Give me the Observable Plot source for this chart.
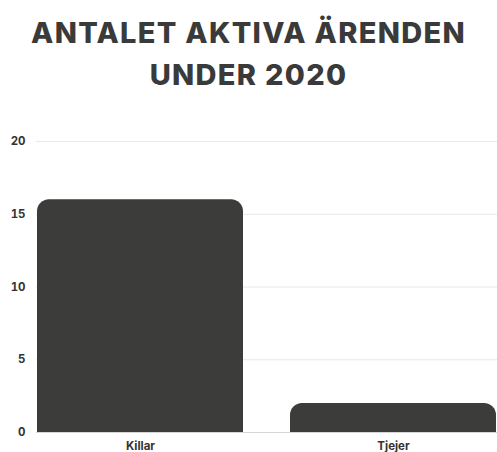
<!DOCTYPE html>
<html>
<head>
<meta charset="utf-8">
<script src="https://cdn.jsdelivr.net/npm/d3@7"></script>
<script src="https://cdn.jsdelivr.net/npm/@observablehq/plot@0.6"></script>
<style>
  html, body { margin: 0; padding: 0; background: #fff; }
  body { width: 497px; height: 452px; overflow: hidden; font-family: Inter, "Noto Sans", sans-serif; }
  #title { padding-top: 12px; height: 92px; text-align: center; font-family: Inter, sans-serif; font-weight: 800; font-size: 29px; line-height: 42px; color: #3a3a3a; letter-spacing: 1.3px; }
  #chart { margin-top: 16px; }
</style>
</head>
<body>
<div id="title">ANTALET AKTIVA ÄRENDEN<br>UNDER 2020</div>
<div id="chart"></div>
<script>
const categories = ["Killar", "Tjejer"];
const values = [16, 2];
const yTicks = [0, 5, 10, 15, 20];

const data = categories.map((c, i) => ({category: c, value: values[i]}));
const barColor = "#3c3c3b";

const chart = Plot.plot({
  width: 497,
  height: 336,
  marginTop: 21,
  marginBottom: 24,
  marginLeft: 36,
  marginRight: 0,
  style: {fontFamily: "Inter, sans-serif", fontSize: "11.5px", fontWeight: 700, color: "#333", overflow: "visible"},
  x: {domain: categories, paddingInner: 0.185, paddingOuter: 0, label: null, tickSize: 0},
  y: {domain: [0, 20], ticks: yTicks, label: null, tickSize: 0},
  marks: [
    Plot.gridY(yTicks, {stroke: "#e8e8e8", strokeOpacity: 1}),
    Plot.ruleY([0], {stroke: "#d6d6d6"}),
    Plot.barY(data, {x: "category", y: "value", fill: barColor, rx: 12, ry: 12}),
    Plot.barY(data, {x: "category", y1: 0, y2: d => Math.min(d.value, 1), fill: barColor}),
    Plot.axisY({ticks: yTicks, tickSize: 0, tickPadding: 11, textAnchor: "end", fontWeight: 700, fill: "#333", label: null}),
    Plot.axisX({tickSize: 0, tickPadding: 9, fontWeight: 700, fill: "#333", label: null})
  ]
});
document.getElementById("chart").append(chart);
</script>
</body>
</html>
